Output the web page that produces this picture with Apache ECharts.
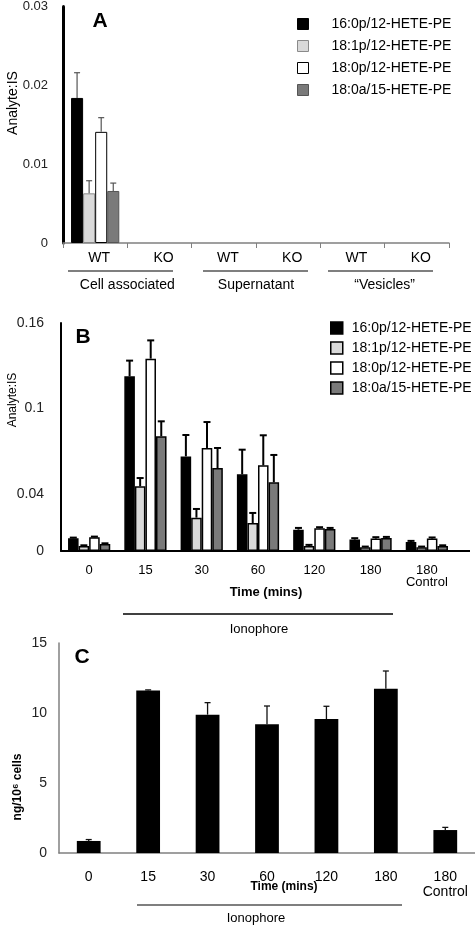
<!DOCTYPE html>
<html><head><meta charset="utf-8">
<script src="https://cdn.jsdelivr.net/npm/echarts@6/dist/echarts.min.js"></script>
<style>html,body{margin:0;padding:0;background:#fff}#c{width:475px;height:926px}</style>
</head><body><div id="c"></div>
<script>
// ---------- data ----------
const seriesNames = ['16:0p/12-HETE-PE', '18:1p/12-HETE-PE', '18:0p/12-HETE-PE', '18:0a/15-HETE-PE'];

// Panel A
const catsA = ['WT', 'KO', 'WT', 'KO', 'WT', 'KO'];
const groupsA = ['Cell associated', 'Supernatant', '\u201cVesicles\u201d'];
const yTicksA = [0, 0.01, 0.02, 0.03];
const a16p12 = [0.0184, null, null, null, null, null];
const a18p1_12 = [0.0063, null, null, null, null, null];
const a18p0_12 = [0.0141, null, null, null, null, null];
const a18a15 = [0.0066, null, null, null, null, null];
const a16p12Err = [0.0032, null, null, null, null, null];
const a18p1_12Err = [0.0016, null, null, null, null, null];
const a18p0_12Err = [0.0018, null, null, null, null, null];
const a18a15Err = [0.0010, null, null, null, null, null];

// Panel B
const catsB = ['0', '15', '30', '60', '120', '180', '180\nControl'];
const yTicksB = [0, 0.04, 0.1, 0.16];
const yTickLabelsB = ['0', '0.04', '0.1', '0.16'];
const b16p12 = [0.0089, 0.1226, 0.0664, 0.0538, 0.0150, 0.0080, 0.0063];
const b18p1_12 = [0.0035, 0.0454, 0.0234, 0.0196, 0.0035, 0.0026, 0.0026];
const b18p0_12 = [0.0096, 0.1350, 0.0723, 0.0601, 0.0159, 0.0087, 0.0087];
const b18a15 = [0.0049, 0.0805, 0.0582, 0.0482, 0.0154, 0.0091, 0.0035];
const b16p12Err = [0.0005, 0.0110, 0.0150, 0.0173, 0.0012, 0.0010, 0.0008];
const b18p1_12Err = [0.0005, 0.0058, 0.0061, 0.0071, 0.0008, 0.0005, 0.0005];
const b18p0_12Err = [0.0005, 0.0128, 0.0182, 0.0211, 0.0008, 0.0010, 0.0008];
const b18a15Err = [0.0005, 0.0105, 0.0141, 0.0192, 0.0008, 0.0008, 0.0005];

// Panel C
const catsC = ['0', '15', '30', '60', '120', '180', '180\nControl'];
const yTicksC = [0, 5, 10, 15];
const cValues = [0.86, 11.6, 9.88, 9.19, 9.57, 11.74, 1.64];
const cErr = [0.10, 0.05, 0.86, 1.31, 0.91, 1.26, 0.19];

// ---------- helpers ----------
const FONT = "'Liberation Sans', Arial, sans-serif";
function errData(vals, errs) {
  const out = [];
  vals.forEach((v, i) => { if (v != null && errs[i] != null) out.push([i, v, errs[i]]); });
  return out;
}
function errRender(idx, n, gap, capW, lw, color) {
  return function (params, api) {
    const x = api.value(0), v = api.value(1), e = api.value(2);
    const base = api.coord([x, v]);
    const top = api.coord([x, v + e]);
    const catW = api.size([1, 0])[0];
    const bw = catW * (1 - gap) / n;
    const cx = base[0] + (idx - (n - 1) / 2) * bw;
    return {
      type: 'group', children: [
        { type: 'line', shape: { x1: cx, y1: base[1], x2: cx, y2: top[1] }, style: { stroke: color, lineWidth: lw } },
        { type: 'line', shape: { x1: cx - capW / 2, y1: top[1], x2: cx + capW / 2, y2: top[1] }, style: { stroke: color, lineWidth: lw } }
      ]
    };
  };
}

const fillColors = ['#000000', '#d9d9d9', '#ffffff', '#7a7a7a'];
const borderA = ['#000000', '#8a8a8a', '#000000', '#555555'];
const valsA = [a16p12, a18p1_12, a18p0_12, a18a15];
const errsA = [a16p12Err, a18p1_12Err, a18p0_12Err, a18a15Err];
const valsB = [b16p12, b18p1_12, b18p0_12, b18a15];
const errsB = [b16p12Err, b18p1_12Err, b18p0_12Err, b18a15Err];

const series = [];
valsA.forEach((arr, i) => {
  series.push({
    name: seriesNames[i], type: 'bar', xAxisIndex: 0, yAxisIndex: 0,
    data: arr.map(v => v == null ? '-' : v),
    barGap: '0%', barCategoryGap: '25%',
    itemStyle: { color: fillColors[i], borderColor: borderA[i], borderWidth: 1 },
    emphasis: { disabled: true }, animation: false
  });
});
valsA.forEach((arr, i) => {
  series.push({
    name: 'errA' + i, type: 'custom', xAxisIndex: 0, yAxisIndex: 0, z: 5,
    renderItem: errRender(i, 4, 0.25, 6, 1.2, '#555555'),
    data: errData(arr, errsA[i]), animation: false
  });
});
valsB.forEach((arr, i) => {
  series.push({
    name: seriesNames[i], type: 'bar', xAxisIndex: 2, yAxisIndex: 1,
    data: arr,
    barGap: '0%', barCategoryGap: '25%',
    itemStyle: { color: fillColors[i], borderColor: '#000000', borderWidth: 1.5 },
    emphasis: { disabled: true }, animation: false
  });
});
valsB.forEach((arr, i) => {
  series.push({
    name: 'errB' + i, type: 'custom', xAxisIndex: 2, yAxisIndex: 1, z: 5,
    renderItem: errRender(i, 4, 0.25, 7, 2, '#000000'),
    data: errData(arr, errsB[i]), animation: false
  });
});
series.push({
  name: 'C', type: 'bar', xAxisIndex: 3, yAxisIndex: 2, data: cValues,
  barCategoryGap: '60%', itemStyle: { color: '#000000' },
  emphasis: { disabled: true }, animation: false
});
series.push({
  name: 'errC', type: 'custom', xAxisIndex: 3, yAxisIndex: 2, z: 5,
  renderItem: errRender(0, 1, 0.6, 6, 1.3, '#111111'),
  data: errData(cValues, cErr), animation: false
});

const txt = (text, x, y, size, weight, extra) => Object.assign({
  type: 'text', x: x, y: y,
  style: { text: text, font: (weight || 'normal') + ' ' + size + 'px ' + FONT, fill: '#000', align: 'center', verticalAlign: 'middle' }
}, extra || {});
const line = (x1, y1, x2, y2, w, c) => ({ type: 'line', shape: { x1, y1, x2, y2 }, style: { stroke: c || '#000', lineWidth: w || 1 } });

const option = {
  animation: false,
  textStyle: { fontFamily: FONT },
  grid: [
    { left: 63, top: 5, width: 386, height: 238 },
    { left: 61, top: 323, width: 394, height: 228 },
    { left: 59, top: 643, width: 416, height: 210 }
  ],
  xAxis: [
    { type: 'category', gridIndex: 0, data: catsA,
      axisLine: { lineStyle: { color: '#808080', width: 1.5 } },
      axisTick: { show: true, interval: 0, length: 5, lineStyle: { color: '#808080' } },
      axisLabel: { interval: 0, color: '#000', fontSize: 14, margin: 8, padding: [0, 0, 0, 8] } },
    { type: 'category', gridIndex: 0, data: groupsA, position: 'bottom', offset: 27,
      axisLine: { show: false }, axisTick: { show: false },
      axisLabel: { interval: 0, color: '#000', fontSize: 14, margin: 8 } },
    { type: 'category', gridIndex: 1, data: catsB,
      axisLine: { lineStyle: { color: '#000', width: 2 } }, axisTick: { show: false },
      axisLabel: { interval: 0, color: '#000', fontSize: 13, margin: 13, lineHeight: 12 } },
    { type: 'category', gridIndex: 2, data: catsC,
      axisLine: { lineStyle: { color: '#808080', width: 1.5 } }, axisTick: { show: false },
      axisLabel: { interval: 0, color: '#000', fontSize: 14, margin: 17, lineHeight: 15 } }
  ],
  yAxis: [
    { type: 'value', gridIndex: 0, min: yTicksA[0], max: yTicksA[yTicksA.length - 1], interval: 0.01,
      axisLine: { show: true, lineStyle: { color: '#000', width: 3 } }, axisTick: { show: false },
      splitLine: { show: false },
      axisLabel: { color: '#222', fontSize: 13, margin: 15 } },
    { type: 'value', gridIndex: 1, min: yTicksB[0], max: yTicksB[yTicksB.length - 1], interval: 0.02,
      axisLine: { show: true, lineStyle: { color: '#000', width: 2 } }, axisTick: { show: false },
      splitLine: { show: false },
      axisLabel: { color: '#222', fontSize: 14, margin: 17,
        formatter: function (v) {
          for (let i = 0; i < yTicksB.length; i++) if (Math.abs(v - yTicksB[i]) < 1e-9) return yTickLabelsB[i];
          return '';
        } } },
    { type: 'value', gridIndex: 2, min: yTicksC[0], max: yTicksC[yTicksC.length - 1], interval: 5,
      axisLine: { show: true, lineStyle: { color: '#808080', width: 1.5 } }, axisTick: { show: false },
      splitLine: { show: false },
      axisLabel: { color: '#222', fontSize: 14, margin: 12 } }
  ],
  legend: [
    { orient: 'vertical', left: 297, top: 17, padding: 0, itemWidth: 11, itemHeight: 11, itemGap: 8,
      selectedMode: false,
      textStyle: { fontSize: 14, color: '#000', lineHeight: 14, padding: [0, 0, 0, 18] },
      data: seriesNames.map((n, i) => ({ name: n, icon: 'rect',
        itemStyle: { color: fillColors[i], borderColor: borderA[i], borderWidth: 1 } })) },
    { orient: 'vertical', left: 330, top: 321, padding: 0, itemWidth: 12, itemHeight: 12, itemGap: 6,
      selectedMode: false,
      textStyle: { fontSize: 14, color: '#000', lineHeight: 14, padding: [0, 0, 0, 4] },
      data: seriesNames.map((n, i) => ({ name: n, icon: 'rect',
        itemStyle: { color: fillColors[i], borderColor: '#000', borderWidth: 1.5 } })) }
  ],
  graphic: [
    txt('A', 100, 21, 21, 'bold'),
    txt('B', 83, 337, 21, 'bold'),
    txt('C', 82, 657, 21, 'bold'),
    txt('Analyte:IS', 13, 103, 14, 'normal', { rotation: Math.PI / 2 }),
    txt('Analyte:IS', 13, 400, 12, 'normal', { rotation: Math.PI / 2 }),
    txt('ng/10\u2076 cells', 18, 787, 12, 'bold', { rotation: Math.PI / 2 }),
    line(68, 271, 173, 271, 1.2),
    line(203, 271, 308, 271, 1.2),
    line(328, 271, 433, 271, 1.2),
    line(455, 551, 470, 551, 2),
    txt('Time (mins)', 266, 592, 13, 'bold'),
    line(123, 614, 393, 614, 1.5),
    txt('Ionophore', 259, 629, 13),
    txt('Time (mins)', 284, 887, 12, 'bold'),
    line(137, 905, 402, 905, 1.2),
    txt('Ionophore', 256, 918, 13)
  ],
  series: series
};
const chart = echarts.init(document.getElementById('c'), null, { renderer: 'canvas' });
chart.setOption(option);
</script></body></html>
